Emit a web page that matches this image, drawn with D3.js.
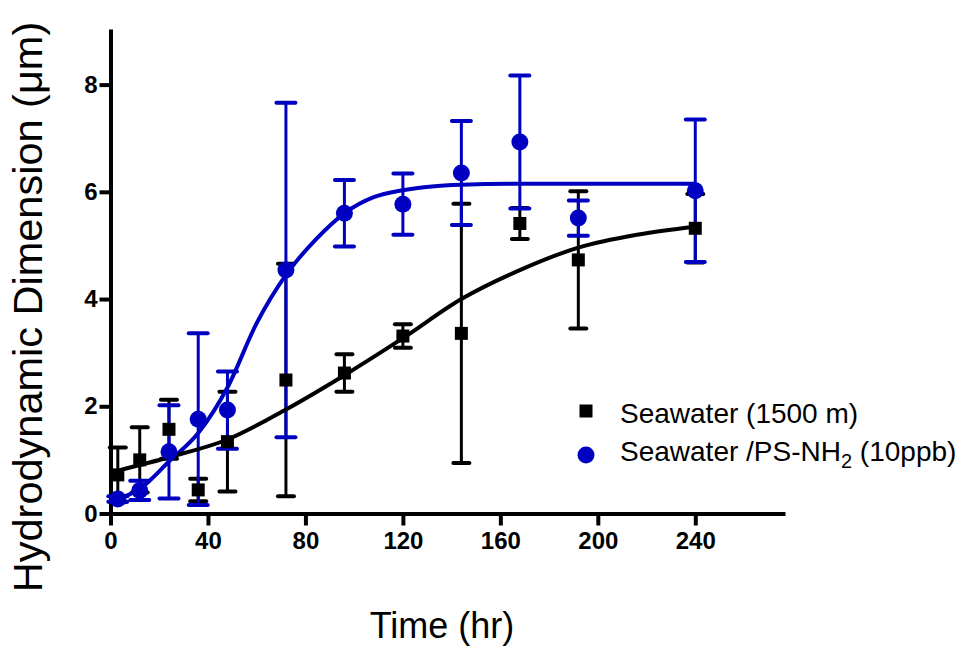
<!DOCTYPE html>
<html>
<head>
<meta charset="utf-8">
<script src="https://cdn.jsdelivr.net/npm/d3@7"></script>
<style>
  body { margin: 0; background: #fff; }
  svg { display: block; font-family: "Liberation Sans", Arial, sans-serif; }
</style>
</head>
<body>
<div id="chart"></div>
<script>
const hours = [3, 12, 24, 36, 48, 72, 96, 120, 144, 168, 192, 240];
const seawaterMean = [0.72, 1.00, 1.57, 0.44, 1.34, 2.49, 2.62, 3.31, 3.36, 5.41, 4.73, 5.32];
const seawaterErr  = [0.51, 0.61, 0.55, 0.21, 0.93, 2.17, 0.35, 0.22, 2.42, 0.29, 1.28, 0.64];
const psMean = [0.27, 0.43, 1.15, 1.76, 1.93, 4.54, 5.60, 5.77, 6.35, 6.93, 5.51, 6.02];
const psErr  = [0.05, 0.18, 0.87, 1.60, 0.72, 3.12, 0.62, 0.57, 0.97, 1.24, 0.33, 1.33];

// fitted curves
const seawaterFitHours = [3, 24, 48, 72, 96, 120, 144, 168, 192, 216, 240];
const seawaterFit = [0.80, 1.05, 1.38, 1.94, 2.58, 3.27, 4.00, 4.54, 4.96, 5.20, 5.35];
const psFitHours = [3, 12, 24, 36, 48, 60, 72, 84, 96, 108, 120, 132, 144, 168, 200, 240];
const psFit = [0.27, 0.46, 0.97, 1.50, 2.35, 3.55, 4.45, 5.10, 5.60, 5.90, 6.03, 6.10, 6.13, 6.15, 6.15, 6.15];

const xTicks = [0, 40, 80, 120, 160, 200, 240];
const yTicks = [0, 2, 4, 6, 8];

const W = 964, H = 648;
const margin = {top: 31, right: 181, bottom: 134.5, left: 110.5};
const width = W - margin.left - margin.right,
      height = H - margin.top - margin.bottom;

const blue = "#0000c0";

const svg = d3.select("#chart").append("svg")
  .attr("width", W).attr("height", H);
const g = svg.append("g")
  .attr("transform", `translate(${margin.left},${margin.top})`);

const x = d3.scaleLinear().domain([0, 276]).range([0, width]);
const y = d3.scaleLinear().domain([0, 9]).range([height, 0]);

// axes
const xAxis = g.append("g")
  .attr("transform", `translate(0,${height})`)
  .call(d3.axisBottom(x).tickValues(xTicks).tickSize(12).tickSizeOuter(0).tickPadding(6));
const yAxis = g.append("g")
  .call(d3.axisLeft(y).tickValues(yTicks).tickSize(11).tickSizeOuter(0).tickPadding(2));

[xAxis, yAxis].forEach(a => {
  a.select(".domain").attr("stroke", "#000").attr("stroke-width", 4).attr("stroke-linecap", "square");
  a.selectAll(".tick line").attr("stroke", "#000").attr("stroke-width", 4);
  a.selectAll(".tick text")
    .attr("fill", "#000")
    .style("font-size", "24px")
    .style("font-weight", "bold")
    .style("font-family", "'Liberation Sans', Arial, sans-serif");
});

// error bars
function errorBars(mean, err, color, capW, stemW) {
  const eb = g.append("g");
  hours.forEach((h, i) => {
    const cx = x(h), top = y(mean[i] + err[i]), bot = y(Math.max(0, mean[i] - err[i]));
    eb.append("line").attr("x1", cx).attr("x2", cx).attr("y1", top).attr("y2", bot)
      .attr("stroke", color).attr("stroke-width", stemW);
    [top, bot].forEach(yy => {
      eb.append("line").attr("x1", cx - capW / 2).attr("x2", cx + capW / 2)
        .attr("y1", yy).attr("y2", yy)
        .attr("stroke", color).attr("stroke-width", 4).attr("stroke-linecap", "round");
    });
  });
}
errorBars(seawaterMean, seawaterErr, "#000", 16, 3);
errorBars(psMean, psErr, blue, 19, 3);

// fitted curves
const line = d3.line().curve(d3.curveMonotoneX);
g.append("path")
  .attr("d", line(psFitHours.map((h, i) => [x(h), y(psFit[i])])))
  .attr("fill", "none").attr("stroke", blue).attr("stroke-width", 4);
g.append("path")
  .attr("d", line(seawaterFitHours.map((h, i) => [x(h), y(seawaterFit[i])])))
  .attr("fill", "none").attr("stroke", "#000").attr("stroke-width", 4);

// markers
g.append("g").selectAll("circle")
  .data(hours)
  .enter().append("circle")
  .attr("cx", d => x(d))
  .attr("cy", (d, i) => y(psMean[i]))
  .attr("r", 8.5)
  .attr("fill", blue);

const sq = 13;
g.append("g").selectAll("rect")
  .data(hours)
  .enter().append("rect")
  .attr("x", d => x(d) - sq / 2)
  .attr("y", (d, i) => y(seawaterMean[i]) - sq / 2)
  .attr("width", sq).attr("height", sq)
  .attr("fill", "#000");

// axis titles
svg.append("text")
  .attr("x", 442).attr("y", 638)
  .attr("text-anchor", "middle")
  .style("font-size", "36px")
  .text("Time (hr)");

svg.append("text")
  .attr("transform", "translate(42,307) rotate(-90)")
  .attr("text-anchor", "middle")
  .style("font-size", "41.5px")
  .text("Hydrodynamic Dimension (\u03bcm)");

// legend
const legend = svg.append("g");
legend.append("rect")
  .attr("x", 586 - sq / 2).attr("y", 411 - sq / 2)
  .attr("width", sq).attr("height", sq).attr("fill", "#000");
legend.append("text")
  .attr("x", 620).attr("y", 423)
  .style("font-size", "28px")
  .text("Seawater (1500 m)");

legend.append("circle")
  .attr("cx", 586).attr("cy", 455).attr("r", 8.5).attr("fill", blue);
const t2 = legend.append("text")
  .attr("x", 620).attr("y", 461)
  .style("font-size", "28px");
t2.append("tspan").text("Seawater /PS-NH");
t2.append("tspan").attr("dy", 7).style("font-size", "20px").text("2");
t2.append("tspan").attr("dy", -7).text(" (10ppb)");
</script>
</body>
</html>
